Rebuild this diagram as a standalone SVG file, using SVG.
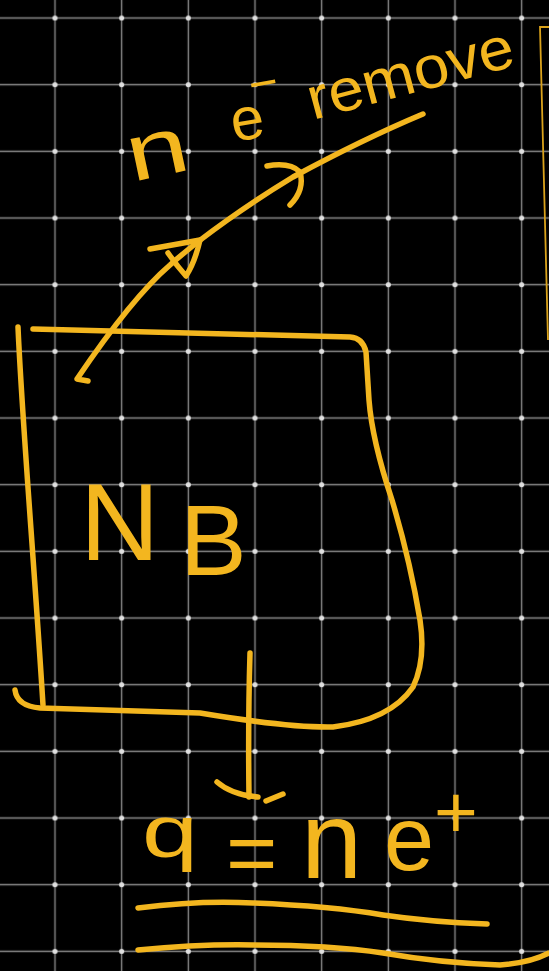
<svg xmlns="http://www.w3.org/2000/svg" width="549" height="971" viewBox="0 0 549 971">
  <style>
    .ink { fill: none; stroke: #F3B61F; stroke-width: 5.5; stroke-linecap: round; stroke-linejoin: round; }
    .thin { fill: none; stroke: #D9A21B; stroke-width: 1.8; }
    .hand { fill: #F3B61F; font-family: "Liberation Sans", "DejaVu Sans", sans-serif; }
  </style>
  <defs>
    <pattern id="grid" patternUnits="userSpaceOnUse" x="21.667" y="-15.333" width="66.667" height="66.667">
      <line x1="33.333" y1="0" x2="33.333" y2="66.667" stroke="#8a8a8a" stroke-width="1.4"/>
      <line x1="0" y1="33.333" x2="66.667" y2="33.333" stroke="#8a8a8a" stroke-width="1.4"/>
      <circle cx="33.333" cy="33.333" r="2.6" fill="#e0e0e0"/>
    </pattern>
  </defs>

  <rect width="549" height="971" fill="#000"/>
  <rect width="549" height="971" fill="url(#grid)"/>

  <!-- partial frame at right edge -->
  <path class="thin" d="M549,27 L540,27 L548,340"/>

  <!-- box node with NB -->
  <g id="box-nb">
    <path class="ink" d="M18,327 C22,420 34,560 43,705"/>
    <path class="ink" d="M15,690 Q17,706 40,708 L200,713 Q290,728 333,727 Q390,720 413,687 Q426,660 420,620 Q410,560 392,500 Q372,440 369,400 L366,352 Q363,338 350,337 L33,329"/>
    <text class="hand" x="80" y="560" font-size="110">N</text>
    <text class="hand" x="180" y="575" font-size="100">B</text>
  </g>

  <!-- electron removal label -->
  <g id="label-electrons">
    <text class="hand" x="132" y="182" font-size="80" textLength="62" lengthAdjust="spacingAndGlyphs" transform="rotate(-12 132 182)">n</text>
    <text class="hand" x="234" y="142" font-size="60" transform="rotate(-10 234 142)">e<tspan dx="-9" dy="-36" font-size="50">−</tspan></text>
    <text class="hand" x="313" y="120" font-size="60" textLength="212" lengthAdjust="spacingAndGlyphs" transform="rotate(-15 313 120)">remove</text>
  </g>

  <!-- connectors -->
  <g id="connectors">
    <path class="ink" d="M88,381 L77,379 C100,345 135,295 170,265 C200,238 250,203 293,177 C330,157 380,132 423,114"/>
    <path class="ink" d="M150,249 L200,240 Q195,262 186,276 Q177,266 168,253"/>
    <path class="ink" d="M267,166 Q290,162 300,172 Q305,190 290,205"/>
    <path class="ink" d="M250,653 Q248,720 249,797"/>
    <path class="ink" d="M217,782 Q232,795 258,797"/>
    <path class="ink" d="M266,801 L283,794"/>
  </g>

  <!-- result -->
  <g id="result">
    <text class="hand"><tspan x="142" y="857" font-size="75" textLength="56" lengthAdjust="spacingAndGlyphs">q</tspan><tspan x="226" y="883" font-size="88">=</tspan><tspan x="301" y="878" font-size="110">n</tspan><tspan x="384" y="870" font-size="90">e</tspan><tspan x="434" y="838" font-size="75">+</tspan></text>
    <path class="ink" d="M138,908 Q200,900 253,903 Q330,906 383,915 Q430,922 487,924"/>
    <path class="ink" d="M138,950 Q200,944 253,945 Q330,945 383,953 Q440,963 500,965 Q530,963 549,953"/>
  </g>
</svg>
